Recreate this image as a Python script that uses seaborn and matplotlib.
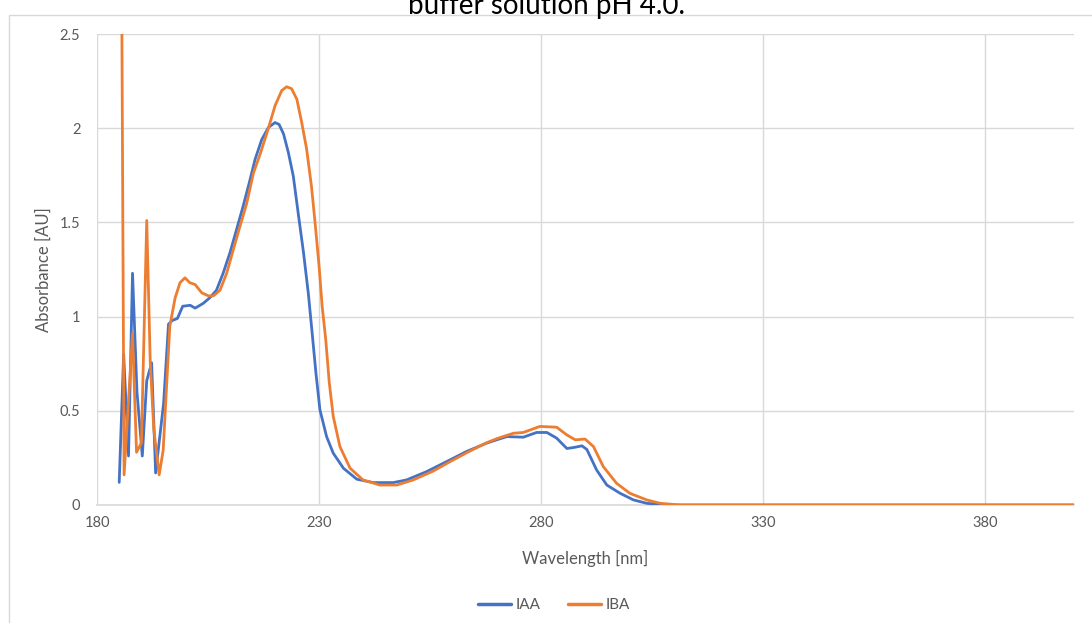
import matplotlib
matplotlib.use("Agg")
import matplotlib.pyplot as plt
import matplotlib.patches as mpatches
import pandas as pd
import seaborn as sns

# UV absorbance spectra of the two auxins
iaa_nm = [185.0, 186.0, 187.1, 188.0, 189.0, 190.2, 191.2, 192.3, 193.2, 195.0,
          196.1, 197.0, 198.1, 199.3, 201.0, 202.1, 203.9, 205.4, 206.9, 208.4,
          209.95, 211.4, 212.95, 214.5, 215.6, 217.1, 218.6, 220.1, 221.0, 222.0,
          223.1, 224.2, 225.3, 226.5, 227.6, 228.5, 229.3, 230.2, 231.7, 233.2,
          235.5, 238.5, 242.2, 246.7, 249.7, 254.2, 258.7, 263.2, 267.7, 270.0,
          272.3, 276.0, 279.0, 281.3, 283.5, 285.8, 287.3, 289.2, 290.3, 292.5,
          294.8, 297.8, 300.8, 303.8, 306.8, 310.0, 330.0, 350.0, 370.0, 390.0,
          400.0]
iaa_abs = [0.12, 0.80, 0.26, 1.23, 0.60, 0.26, 0.66, 0.755, 0.17, 0.54,
           0.96, 0.98, 0.99, 1.055, 1.06, 1.045, 1.07, 1.10, 1.14, 1.23,
           1.34, 1.46, 1.59, 1.73, 1.835, 1.94, 2.004, 2.03, 2.02, 1.97,
           1.87, 1.746, 1.55, 1.34, 1.12, 0.90, 0.70, 0.505, 0.363, 0.275,
           0.195, 0.137, 0.119, 0.119, 0.133, 0.177, 0.23, 0.284, 0.328, 0.346,
           0.363, 0.36, 0.385, 0.385, 0.355, 0.30, 0.305, 0.314, 0.295, 0.186,
           0.106, 0.062, 0.027, 0.009, 0.003, 0.0, 0.0, 0.0, 0.0, 0.0,
           0.0]

iba_nm = [185.6, 186.1, 188.0, 188.9, 190.0, 191.2, 192.0, 192.8, 194.0, 194.9,
          195.6, 196.4, 197.6, 198.7, 199.8, 200.9, 202.1, 203.6, 205.1, 206.2,
          207.7, 209.2, 210.7, 212.2, 213.7, 215.2, 216.7, 218.6, 220.1, 221.6,
          222.7, 223.8, 225.0, 226.1, 227.2, 228.3, 229.1, 230.0, 230.7, 231.5,
          232.3, 233.2, 234.7, 237.0, 239.9, 243.7, 247.5, 251.2, 255.7, 259.5,
          263.2, 267.7, 270.0, 273.8, 276.0, 279.7, 283.5, 285.8, 287.7, 289.9,
          291.8, 294.0, 297.0, 300.0, 303.8, 306.8, 311.3, 330.0, 350.0, 370.0,
          390.0, 400.0]
iba_abs = [2.55, 0.16, 0.91, 0.28, 0.33, 1.51, 0.75, 0.40, 0.16, 0.29,
           0.60, 0.95, 1.10, 1.18, 1.206, 1.18, 1.17, 1.126, 1.11, 1.11,
           1.14, 1.23, 1.356, 1.48, 1.60, 1.76, 1.86, 2.0, 2.12, 2.20,
           2.22, 2.21, 2.154, 2.03, 1.89, 1.69, 1.50, 1.27, 1.055, 0.88,
           0.65, 0.47, 0.31, 0.195, 0.133, 0.106, 0.106, 0.133, 0.180, 0.23,
           0.277, 0.33, 0.352, 0.381, 0.385, 0.417, 0.413, 0.372, 0.346, 0.35,
           0.31, 0.204, 0.115, 0.062, 0.027, 0.009, 0.0, 0.0, 0.0, 0.0,
           0.0, 0.0]

series_names = ["IAA", "IBA"]
series_colors = ["#4472C4", "#ED7D31"]
x_ticks = [180, 230, 280, 330, 380]
y_ticks = [0, 0.5, 1, 1.5, 2, 2.5]
y_tick_labels = ["0", "0.5", "1", "1.5", "2", "2.5"]

df = pd.concat([
    pd.DataFrame({"Wavelength": iaa_nm, "Absorbance": iaa_abs, "Compound": series_names[0]}),
    pd.DataFrame({"Wavelength": iba_nm, "Absorbance": iba_abs, "Compound": series_names[1]}),
], ignore_index=True)

sns.set_theme(style="white")
plt.rcParams["font.family"] = ["Lato", "DejaVu Sans"]

W, H = 1092, 623
fig = plt.figure(figsize=(W / 100, H / 100), dpi=100)
ax = fig.add_axes([97 / W, 1 - 505 / H, (1074 - 97) / W, (505 - 34) / H])

grid_c = "#D9D9D9"
text_c = "#595959"

sns.lineplot(data=df, x="Wavelength", y="Absorbance", hue="Compound",
             palette=dict(zip(series_names, series_colors)), estimator=None,
             sort=False, linewidth=2.0, ax=ax, legend=False, zorder=3)

ax.set_xlim(180, 400)
ax.set_ylim(0, 2.5)
ax.set_xticks(x_ticks)
ax.set_xticklabels([str(v) for v in x_ticks])
ax.set_yticks(y_ticks)
ax.set_yticklabels(y_tick_labels)
ax.grid(True, color=grid_c, linewidth=1.0)
ax.set_axisbelow(True)
for side in ["top", "right", "left"]:
    ax.spines[side].set_visible(False)
ax.spines["bottom"].set_color(grid_c)
ax.spines["bottom"].set_linewidth(1.2)
ax.tick_params(axis="both", length=0, labelsize=10.5, colors=text_c)
ax.tick_params(axis="y", pad=12)
ax.tick_params(axis="x", pad=8)

ax.set_xlabel("Wavelength [nm]", fontsize=12, color=text_c, labelpad=14)
ax.set_ylabel("Absorbance [AU]", fontsize=12, color=text_c, labelpad=6)

# outer chart frame
frame = mpatches.Rectangle((9 / W, -0.1), 1.2, 1 - 15 / H + 0.1,
                           transform=fig.transFigure, fill=False,
                           edgecolor=grid_c, linewidth=1.0)
fig.patches.append(frame)

fig.text(0.5, 1 - 14 / H, "buffer solution pH 4.0.", ha="center",
         va="baseline", fontsize=20, color="#000000")

handles = [plt.Line2D([], [], color=c, linewidth=2.5) for c in series_colors]
fig.legend(handles, series_names, loc="center", ncol=2, frameon=False,
           bbox_to_anchor=(554 / W, 1 - 605 / H), fontsize=11,
           labelcolor=text_c, handlelength=2.15, columnspacing=1.8,
           handletextpad=0.3)

fig.savefig("out.png", dpi=100)
